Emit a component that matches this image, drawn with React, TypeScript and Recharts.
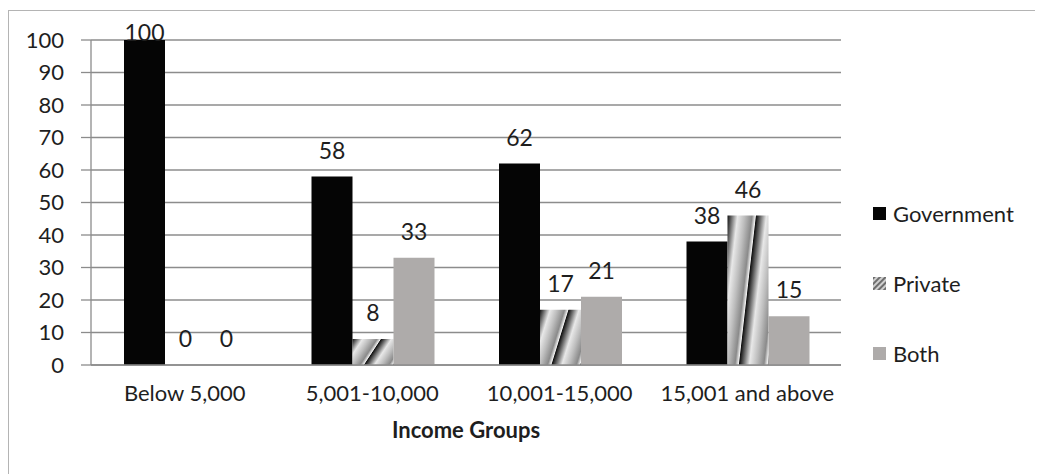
import {
  BarChart,
  Bar,
  XAxis,
  YAxis,
  CartesianGrid,
  Label,
  LabelList,
} from "recharts";

const groups = ["Below 5,000", "5,001-10,000", "10,001-15,000", "15,001 and above"];
const government = [100, 58, 62, 38];
const privateSector = [0, 8, 17, 46];
const both = [0, 33, 21, 15];
const yTicks = [0, 10, 20, 30, 40, 50, 60, 70, 80, 90, 100];

const data = groups.map((g, i) => ({
  group: g,
  Government: government[i],
  Private: privateSector[i],
  Both: both[i],
}));

const FONT = "Lato, 'Noto Sans', sans-serif";
const TEXT = "#1e1e1e";
const GRID = "#8c8c8c";
const PLOT_TOP = 29;

// Excel style value labels: sit above the bar, but never above the plot top
function ValueLabel(props: any) {
  const { x, y, width, value } = props;
  const baseline = Math.max(y - 18, PLOT_TOP + 1);
  return (
    <text
      x={x + width / 2}
      y={baseline}
      textAnchor="middle"
      fontSize={23}
      fontFamily={FONT}
      fill={TEXT}
    >
      {value}
    </text>
  );
}

const legendItems = [
  { name: "Government", fill: "#050505" },
  { name: "Private", fill: "url(#privIcon)" },
  { name: "Both", fill: "#aeabaa" },
];

function LegendBox() {
  return (
    <div
      style={{
        position: "absolute",
        left: 864,
        top: 167,
        fontFamily: FONT,
        fontSize: 22,
        color: TEXT,
      }}
    >
      {legendItems.map((it) => (
        <div
          key={it.name}
          style={{ height: 70, display: "flex", alignItems: "center" }}
        >
          <svg width={13} height={13} style={{ marginRight: 7 }}>
            <defs>
              <pattern
                id="privIcon"
                width="4"
                height="4"
                patternUnits="userSpaceOnUse"
                patternTransform="rotate(45)"
              >
                <rect width="4" height="4" fill="#d0d0d0" />
                <rect width="2" height="4" fill="#6e6e6e" />
              </pattern>
            </defs>
            <rect width={13} height={13} fill={it.fill} />
          </svg>
          <span>{it.name}</span>
        </div>
      ))}
    </div>
  );
}

export default function App() {
  return (
    <div
      style={{
        marginTop: 2,
        width: 1035,
        height: 464,
        borderTop: "1px solid #b4b4b4",
        borderLeft: "1px solid #b4b4b4",
        boxSizing: "border-box",
        position: "relative",
        background: "#fff",
      }}
    >
      <BarChart
        width={1034}
        height={463}
        data={data}
        margin={{ top: PLOT_TOP, right: 202, left: 0, bottom: 31 }}
        barCategoryGap={33}
        barGap={0}
      >
        <defs>
          <linearGradient
            id="privGrad"
            x1="0"
            y1="0"
            x2="0.6"
            y2="0.25"
            spreadMethod="repeat"
          >
            <stop offset="0%" stopColor="#111" />
            <stop offset="12%" stopColor="#5a5a5a" />
            <stop offset="35%" stopColor="#e8e8e8" />
            <stop offset="60%" stopColor="#bdbdbd" />
            <stop offset="85%" stopColor="#8a8a8a" />
            <stop offset="97%" stopColor="#f0f0f0" />
            <stop offset="100%" stopColor="#111" />
          </linearGradient>
        </defs>
        <CartesianGrid vertical={false} stroke={GRID} strokeWidth={1.3} />
        <XAxis
          dataKey="group"
          height={78}
          axisLine={{ stroke: GRID, strokeWidth: 1.3 }}
          tickLine={false}
          tickSize={0}
          tickMargin={20}
          tick={{ fill: TEXT, fontSize: 22, fontFamily: FONT }}
        >
          <Label
            value="Income Groups"
            position="insideBottom"
            offset={5}
            style={{
              fill: TEXT,
              fontSize: 22,
              fontWeight: 700,
              fontFamily: FONT,
            }}
          />
        </XAxis>
        <YAxis
          width={82}
          domain={[0, 100]}
          ticks={yTicks}
          interval={0}
          axisLine={{ stroke: GRID, strokeWidth: 1.3 }}
          tickLine={{ stroke: GRID, strokeWidth: 1.3 }}
          tickSize={10}
          tickMargin={17}
          tick={{ fill: TEXT, fontSize: 22, fontFamily: FONT }}
        />
        <Bar dataKey="Government" fill="#050505" isAnimationActive={false}>
          <LabelList dataKey="Government" content={ValueLabel} />
        </Bar>
        <Bar
          dataKey="Private"
          fill="url(#privGrad)"
          minPointSize={0.01}
          isAnimationActive={false}
        >
          <LabelList dataKey="Private" content={ValueLabel} />
        </Bar>
        <Bar
          dataKey="Both"
          fill="#aeabaa"
          minPointSize={0.01}
          isAnimationActive={false}
        >
          <LabelList dataKey="Both" content={ValueLabel} />
        </Bar>
      </BarChart>
      <LegendBox />
    </div>
  );
}
